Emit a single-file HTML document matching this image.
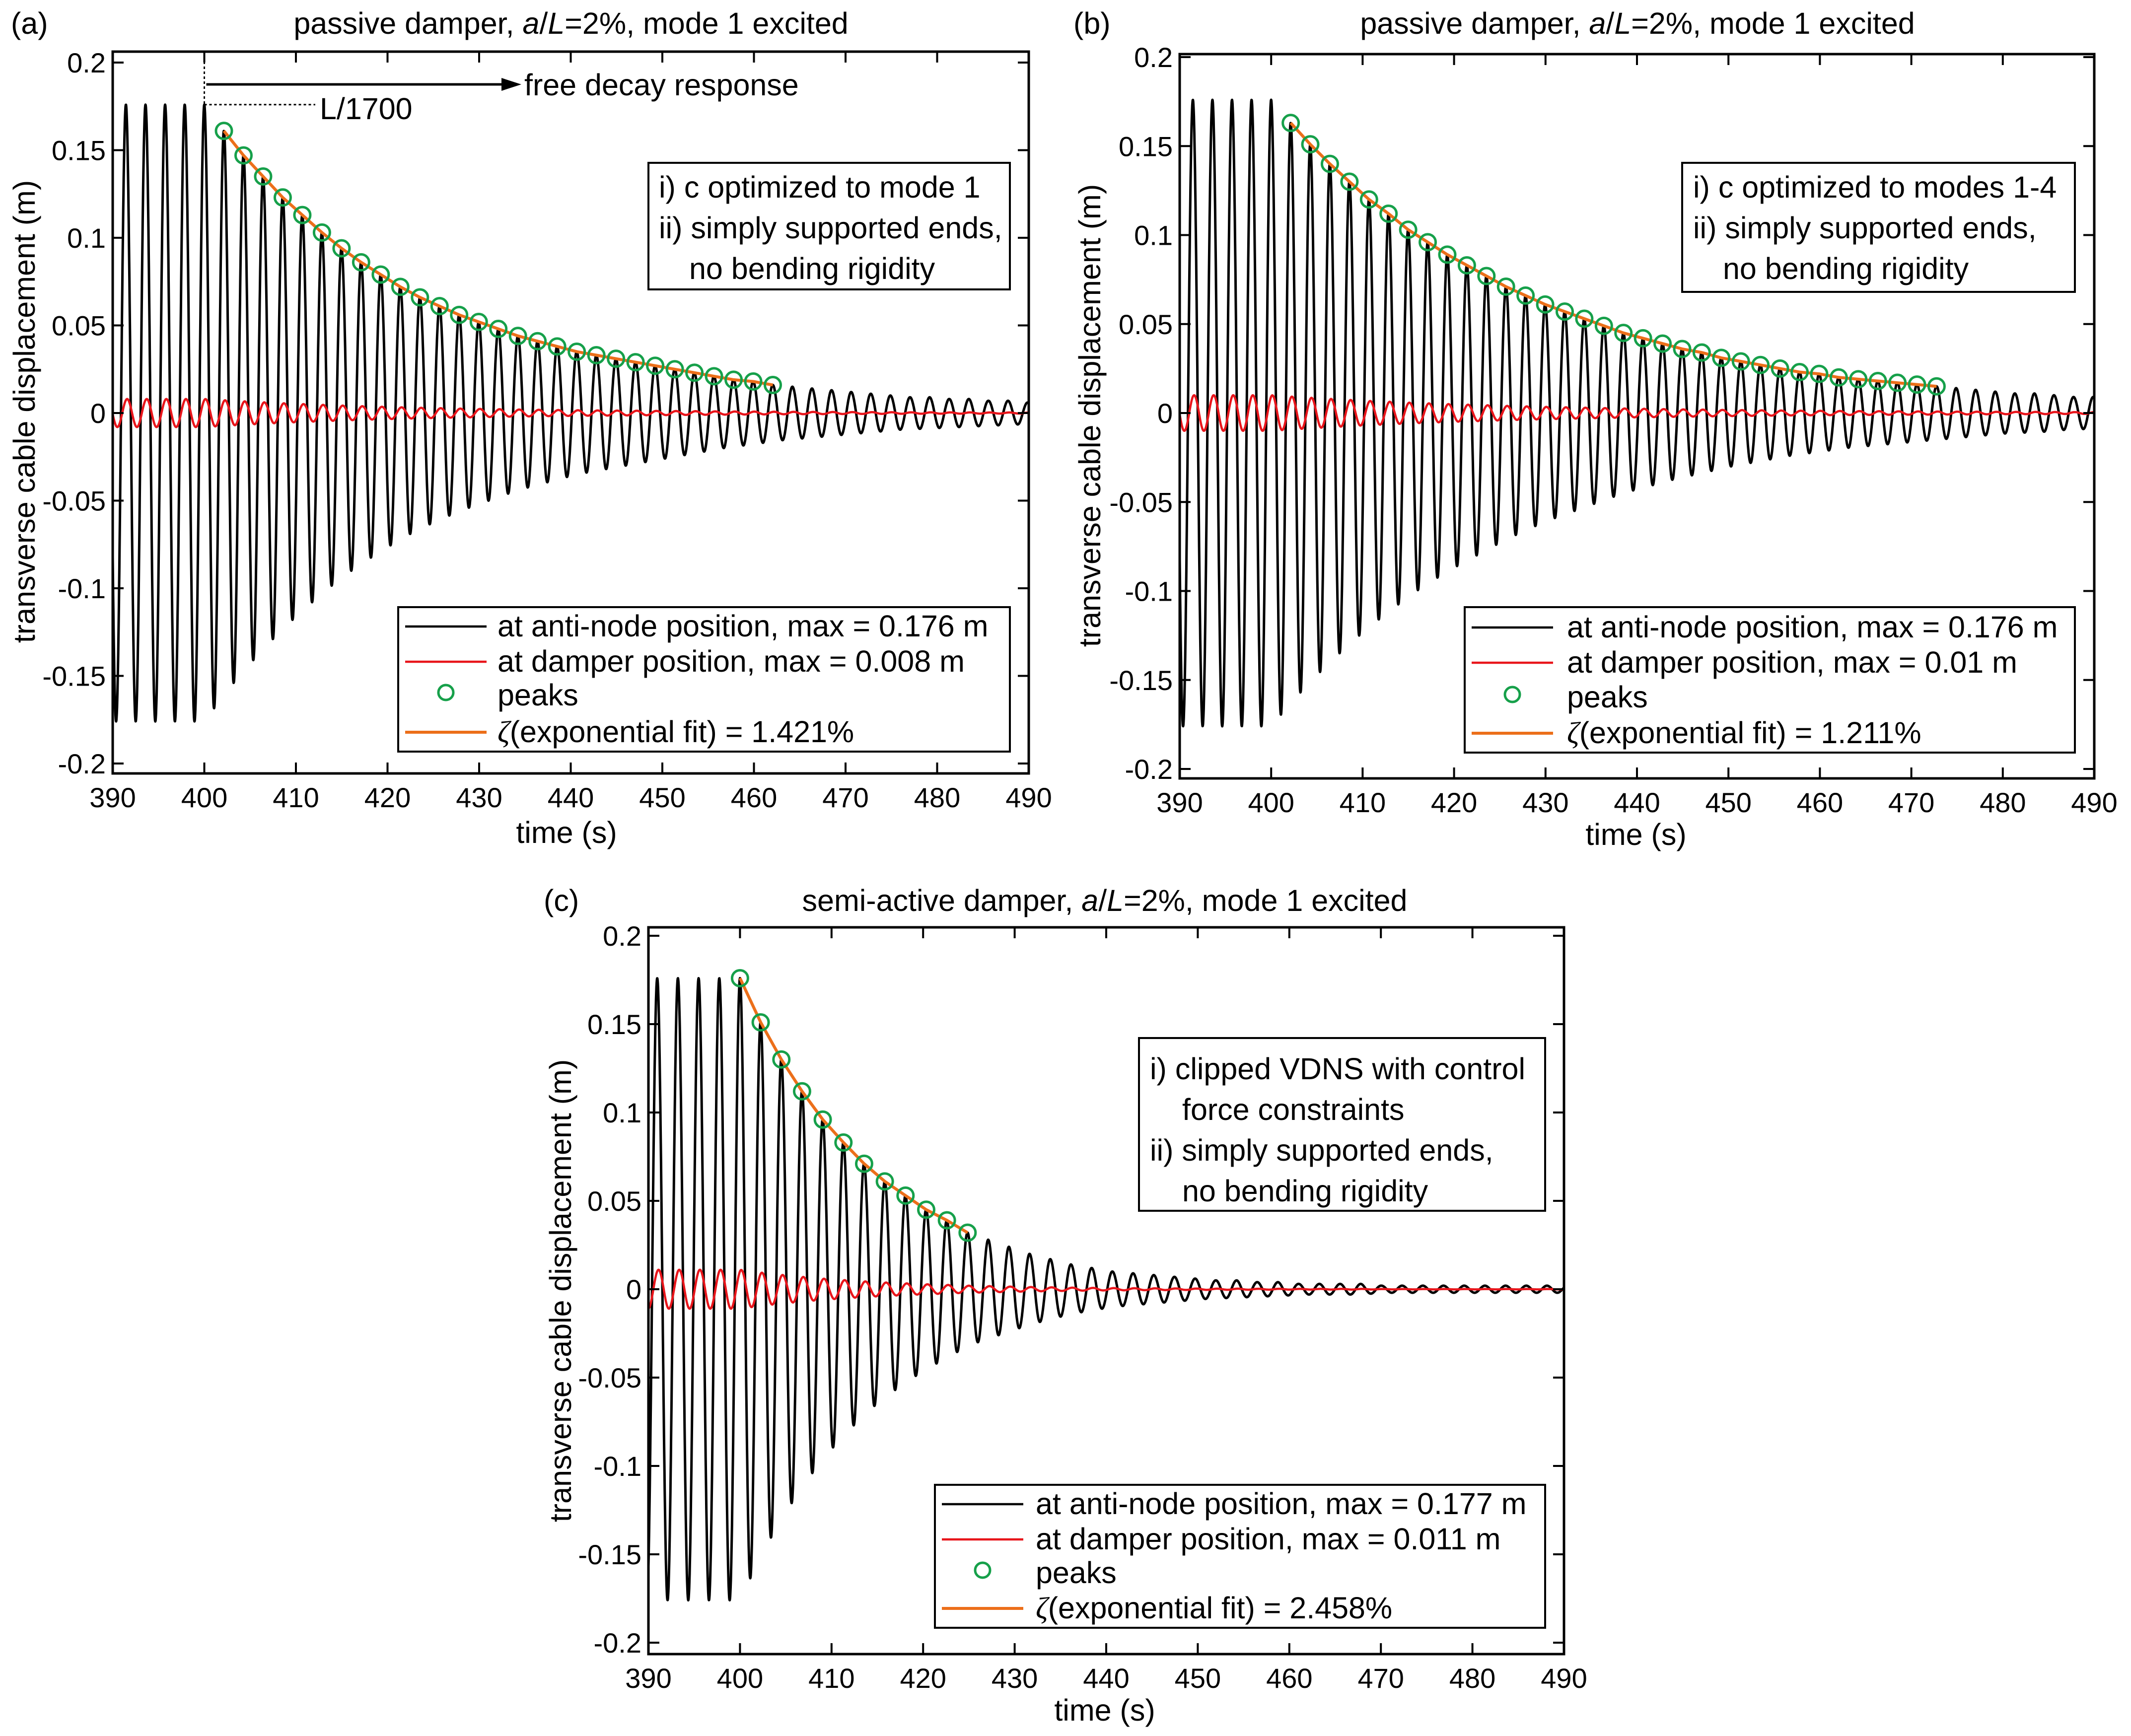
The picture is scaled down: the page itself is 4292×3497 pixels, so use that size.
<!DOCTYPE html>
<html><head><meta charset="utf-8"><style>
html,body{margin:0;padding:0;background:#fff;}
svg{display:block;}
text{font-family:"Liberation Sans",sans-serif;fill:#000;}
</style></head><body>
<svg id="fig" width="4292" height="3497" viewBox="0 0 4292 3497" xmlns="http://www.w3.org/2000/svg"></svg>
<script>
// ---- data ----
const xTicks = [390,400,410,420,430,440,450,460,470,480,490];
const yTicks = [0.2,0.15,0.1,0.05,0,-0.05,-0.1,-0.15,-0.2];
const yTickLabels = ["0.2","0.15","0.1","0.05","0","-0.05","-0.1","-0.15","-0.2"];
const periods = [2.14,2.14,2.26];
const preAmp = 0.176;
// peak amplitudes per cycle after t=400 (k=0 at 400 s)
const ampA = [0.176,0.161,0.147,0.135,0.123,0.113,0.103,0.094,0.086,0.079,0.072,0.066,0.061,0.056,0.052,0.048,0.044,0.041,0.038,0.035,0.033,0.031,0.029,0.027,0.025,0.023,0.021,0.019,0.018,0.016,0.015,0.014,0.013,0.012,0.011,0.010,0.009,0.009,0.008,0.008,0.007,0.007,0.006,0.006];
const ampB = [0.176,0.163,0.151,0.140,0.130,0.120,0.112,0.103,0.096,0.089,0.083,0.077,0.071,0.066,0.061,0.057,0.053,0.049,0.045,0.042,0.039,0.036,0.034,0.031,0.029,0.027,0.025,0.023,0.022,0.020,0.019,0.018,0.017,0.016,0.015,0.014,0.013,0.012,0.011,0.011,0.010,0.009,0.009,0.009];
const ampC = [0.176,0.151,0.130,0.112,0.096,0.083,0.071,0.061,0.053,0.045,0.039,0.032,0.028,0.024,0.020,0.017,0.014,0.012,0.010,0.009,0.008,0.007,0.006,0.005,0.005,0.004,0.004,0.003,0.003,0.003,0.003,0.002,0.002,0.002,0.002,0.002,0.002,0.002,0.002,0.002,0.002,0.002,0.002,0.002];
// detected peaks (cycle index, value)
const peakIdxA = [1,2,3,4,5,6,7,8,9,10,11,12,13,14,15,16,17,18,19,20,21,22,23,24,25,26,27,28,29];
const peakValA = [0.161,0.147,0.135,0.123,0.113,0.103,0.094,0.086,0.079,0.072,0.066,0.061,0.056,0.052,0.048,0.044,0.041,0.038,0.035,0.033,0.031,0.029,0.027,0.025,0.023,0.021,0.019,0.018,0.016];
const peakIdxB = [1,2,3,4,5,6,7,8,9,10,11,12,13,14,15,16,17,18,19,20,21,22,23,24,25,26,27,28,29,30,31,32,33,34];
const peakValB = [0.163,0.151,0.140,0.130,0.120,0.112,0.103,0.096,0.089,0.083,0.077,0.071,0.066,0.061,0.057,0.053,0.049,0.045,0.042,0.039,0.036,0.034,0.031,0.029,0.027,0.025,0.023,0.022,0.020,0.019,0.018,0.017,0.016,0.015];
const peakIdxC = [0,1,2,3,4,5,6,7,8,9,10,11];
const peakValC = [0.176,0.151,0.130,0.112,0.096,0.083,0.071,0.061,0.053,0.045,0.039,0.032];
const damperMax = [0.008,0.010,0.011];

const NS="http://www.w3.org/2000/svg";
const svg=document.getElementById('fig');
function el(tag,attrs,parent){const e=document.createElementNS(NS,tag);for(const k in attrs)e.setAttribute(k,attrs[k]);(parent||svg).appendChild(e);return e;}
const FS=61;

const panels=[
 {id:'a',L:227,R:2072,T:104,B:1558,y02:126,yM02:1538,amps:ampA,pi:peakIdxA,pv:peakValA,dm:damperMax[0],P:periods[0],
  label:'(a)',lx:22,ly:68,title:'passive damper',tx:1150,ty:68,ylx:52,yly:829,xlx:1141,xly:1698,
  leg:{x:802,y:1223,w:1232,h:291,sx1:816,sx2:980,tx:1002,ys:[1262,1333,1401,1475]},
  legTexts:['at anti-node position, max = 0.176 m','at damper position, max = 0.008 m','peaks','1.421%'],
  ann:{x:1306,y:328,w:728,h:255,tx:1327,ti:1388,ys:[378,460,542]},
  annTexts:['i) c optimized to mode 1','ii) simply supported ends,','no bending rigidity']},
 {id:'b',L:2376,R:4218,T:109,B:1568,y02:115,yM02:1549,amps:ampB,pi:peakIdxB,pv:peakValB,dm:damperMax[1],P:periods[1],
  label:'(b)',lx:2162,ly:68,title:'passive damper',tx:3298,ty:68,ylx:2198,yly:837,xlx:3295,xly:1702,
  leg:{x:2950,y:1223,w:1229,h:293,sx1:2964,sx2:3128,tx:3156,ys:[1264,1335,1405,1477]},
  legTexts:['at anti-node position, max = 0.176 m','at damper position, max = 0.01 m','peaks','1.211%'],
  ann:{x:3388,y:328,w:791,h:260,tx:3410,ti:3470,ys:[378,460,542]},
  annTexts:['i) c optimized to modes 1-4','ii) simply supported ends,','no bending rigidity']},
 {id:'c',L:1306,R:3150,T:1868,B:3332,y02:1885,yM02:3309,amps:ampC,pi:peakIdxC,pv:peakValC,dm:damperMax[2],P:periods[2],
  label:'(c)',lx:1095,ly:1835,title:'semi-active damper',tx:2225,ty:1835,ylx:1132,yly:2600,xlx:2225,xly:3466,
  leg:{x:1883,y:2991,w:1229,h:288,sx1:1897,sx2:2061,tx:2086,ys:[3030,3101,3169,3240]},
  legTexts:['at anti-node position, max = 0.177 m','at damper position, max = 0.011 m','peaks','2.458%'],
  ann:{x:2294,y:2091,w:818,h:348,tx:2316,ti:2381,ys:[2154,2236,2318,2400]},
  annTexts:['i) clipped VDNS with control','force constraints','ii) simply supported ends,','no bending rigidity']}
];

function ampAt(amps,t,P){
  if(t<=400) return preAmp;
  const k=(t-400)/P;const i=Math.floor(k);const f=k-i;
  const a0=amps[Math.min(i,amps.length-1)],a1=amps[Math.min(i+1,amps.length-1)];
  return a0+(a1-a0)*f;
}

panels.forEach(p=>{
  const g=el('g',{});
  
  
  const X=t=>p.L+(t-390)/100*(p.R-p.L);
  const Y=v=>p.y02+(0.2-v)/0.4*(p.yM02-p.y02);
  const clip=el('clipPath',{id:'clip'+p.id},g);
  el('rect',{x:p.L,y:p.T,width:p.R-p.L,height:p.B-p.T},clip);
  const lb=el('text',{x:p.lx,y:p.ly,'font-size':FS},g);lb.textContent=p.label;
  
  const tt=el('text',{x:p.tx,y:p.ty,'font-size':FS,'text-anchor':'middle'},g);
  
  tt.innerHTML=p.title+', <tspan font-style="italic">a</tspan>/<tspan font-style="italic">L</tspan>=2%, mode 1 excited';
  const yl=el('text',{x:0,y:0,'font-size':FS,'text-anchor':'middle',transform:`translate(${p.ylx+18},${p.yly}) rotate(-90)`},g);
  yl.textContent='transverse cable displacement (m)';
  
  const xl=el('text',{x:p.xlx,y:p.xly,'font-size':FS,'text-anchor':'middle'},g);
  xl.textContent='time (s)';
  
  const dg=el('g',{'clip-path':`url(#clip${p.id})`},g);
  let dB='',dR='';
  for(let t=390;t<=490.0001;t+=0.025){
    const a=ampAt(p.amps,t,p.P);const ph=2*Math.PI*(t-400)/p.P;
    const yb=a*Math.cos(ph);const yr=a*(p.dm/preAmp)*Math.cos(ph-0.4);
    dB+=(dB?'L':'M')+X(t).toFixed(1)+','+Y(yb).toFixed(1);
    dR+=(dR?'L':'M')+X(t).toFixed(1)+','+Y(yr).toFixed(1);
  }
  const lineB=el('path',{d:dB,fill:'none',stroke:'#000','stroke-width':5,'stroke-linejoin':'round'},dg);
  
  const lineR=el('path',{d:dR,fill:'none',stroke:'#e8151b','stroke-width':4.5},dg);
  
  let dF='';
  p.pi.forEach((k,i)=>{dF+=(i?'L':'M')+X(400+k*p.P).toFixed(1)+','+Y(p.pv[i]).toFixed(1);});
  const fit=el('path',{d:dF,fill:'none',stroke:'#ec6f1a','stroke-width':6,'stroke-linejoin':'round'},dg);
  
  p.pi.forEach((k,i)=>{
    const c=el('circle',{cx:X(400+k*p.P),cy:Y(p.pv[i]),r:16,fill:'none',stroke:'#16a04a','stroke-width':5},dg);
    
  });
  const box=el('rect',{x:p.L,y:p.T,width:p.R-p.L,height:p.B-p.T,fill:'none',stroke:'#000','stroke-width':5},g);
  
  xTicks.forEach(t=>{
    const x=X(t);
    el('line',{x1:x,y1:p.B,x2:x,y2:p.B-22,stroke:'#000','stroke-width':4},g);
    el('line',{x1:x,y1:p.T,x2:x,y2:p.T+22,stroke:'#000','stroke-width':4},g);
    const tl=el('text',{x:x,y:p.B+68,'font-size':56,'text-anchor':'middle'},g);tl.textContent=t;
    
  });
  yTicks.forEach((v,i)=>{
    const y=Y(v);
    el('line',{x1:p.L,y1:y,x2:p.L+22,y2:y,stroke:'#000','stroke-width':4},g);
    el('line',{x1:p.R,y1:y,x2:p.R-22,y2:y,stroke:'#000','stroke-width':4},g);
    const tl=el('text',{x:p.L-14,y:y+20,'font-size':56,'text-anchor':'end'},g);tl.textContent=yTickLabels[i];
    
  });
  const an=el('g',{},g);
  
  el('rect',{x:p.ann.x,y:p.ann.y,width:p.ann.w,height:p.ann.h,fill:'#fff',stroke:'#000','stroke-width':4},an);
  p.annTexts.forEach((s,i)=>{
    const indent=(s.startsWith('no ')||s.startsWith('force'));
    const t=el('text',{x:indent?p.ann.ti:p.ann.tx,y:p.ann.ys[i]+20,'font-size':FS},an);t.textContent=s;
  });
  const lg=el('g',{},g);
  
  const L=p.leg;
  el('rect',{x:L.x,y:L.y,width:L.w,height:L.h,fill:'#fff',stroke:'#000','stroke-width':4},lg);
  const cols=['#000','#e8151b',null,'#ec6f1a'];
  L.ys.forEach((y,i)=>{
    const e=el('g',{},lg);
    
    if(cols[i]) el('line',{x1:L.sx1,y1:y,x2:L.sx2,y2:y,stroke:cols[i],'stroke-width':i==3?6:4.5},e);
    else el('circle',{cx:(L.sx1+L.sx2)/2,cy:y-6,r:15,fill:'none',stroke:'#16a04a','stroke-width':5},e);
    const t=el('text',{x:L.tx,y:y+20,'font-size':FS},e);
    if(i==3) t.innerHTML='<tspan font-style="italic" font-family="Liberation Serif">ζ</tspan>(exponential fit) = '+p.legTexts[3];
    else t.textContent=p.legTexts[i];
  });
  if(p.id==='a'){
    const x4=X(400),yp=Y(0.176);
    el('line',{x1:x4,y1:p.T,x2:x4,y2:yp,stroke:'#000','stroke-width':3,'stroke-dasharray':'5,5'},g);
    el('line',{x1:x4,y1:yp,x2:635,y2:yp,stroke:'#000','stroke-width':3,'stroke-dasharray':'5,5'},g);
    const lt=el('text',{x:644,y:240,'font-size':FS},g);lt.textContent='L/1700';
    
    el('line',{x1:x4+4,y1:170,x2:1030,y2:170,stroke:'#000','stroke-width':5},g);
    el('polygon',{points:'1050,170 1010,157 1010,183',fill:'#000'},g);
    const ft=el('text',{x:1056,y:192,'font-size':FS},g);ft.textContent='free decay response';
    
  }
});
</script>
</body></html>
